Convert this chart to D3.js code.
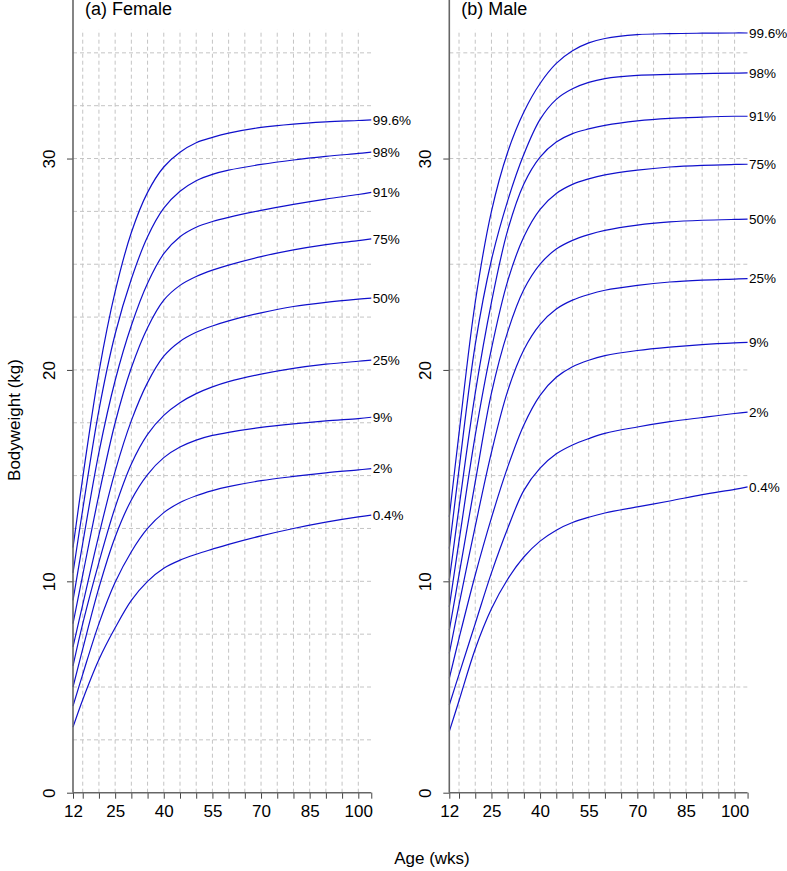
<!DOCTYPE html>
<html>
<head>
<meta charset="utf-8">
<script src="https://cdn.jsdelivr.net/npm/d3@7"></script>
<style>
  body { margin: 0; background: #fff; }
  text { font-family: "Liberation Sans", Arial, sans-serif; fill: #000; }
</style>
</head>
<body>
<svg id="chart" width="787" height="871"></svg>
<script>
// ages (weeks) at which the centile curves were read
const ages = [12, 15, 20, 25, 30, 35, 40, 45, 50, 55, 60, 70, 80, 90, 100, 104];
const centiles = ["99.6%", "98%", "91%", "75%", "50%", "25%", "9%", "2%", "0.4%"];

// female bodyweight (kg), one array per centile
const f996 = [11.6, 14.9, 19.9, 23.7, 26.5, 28.4, 29.6, 30.3, 30.75, 31.0, 31.2, 31.47, 31.63, 31.73, 31.8, 31.83];
const f98  = [10.4, 13.4, 18.1, 21.7, 24.3, 26.3, 27.65, 28.45, 28.95, 29.25, 29.45, 29.72, 29.93, 30.1, 30.24, 30.3];
const f91  = [9.1, 11.8, 16.1, 19.5, 22.1, 24.1, 25.5, 26.3, 26.75, 27.02, 27.22, 27.55, 27.83, 28.08, 28.3, 28.4];
const f75  = [8.0, 10.3, 14.1, 17.5, 20.1, 22.0, 23.3, 24.0, 24.42, 24.72, 24.96, 25.36, 25.68, 25.93, 26.12, 26.2];
const f50  = [6.9, 8.9, 12.2, 15.2, 17.6, 19.4, 20.65, 21.35, 21.78, 22.08, 22.32, 22.7, 23.0, 23.2, 23.35, 23.4];
const f25  = [6.0, 8.0, 10.9, 13.5, 15.55, 16.95, 17.85, 18.45, 18.88, 19.2, 19.45, 19.8, 20.07, 20.27, 20.41, 20.46];
const f9   = [5.0, 6.8, 9.7, 12.1, 13.85, 15.05, 15.85, 16.35, 16.68, 16.9, 17.05, 17.28, 17.45, 17.59, 17.7, 17.76];
const f2   = [4.1, 5.6, 8.0, 9.95, 11.4, 12.5, 13.25, 13.73, 14.05, 14.29, 14.48, 14.76, 14.96, 15.13, 15.27, 15.33];
const f04  = [3.1, 4.4, 6.3, 7.8, 9.1, 10.0, 10.62, 11.0, 11.28, 11.52, 11.75, 12.15, 12.5, 12.8, 13.05, 13.13];

// male bodyweight (kg)
const m996 = [13.05, 17.0, 23.2, 27.5, 30.3, 32.2, 33.55, 34.5, 35.1, 35.47, 35.68, 35.86, 35.91, 35.93, 35.94, 35.94];
const m98  = [11.55, 15.3, 21.2, 25.2, 28.0, 30.2, 31.85, 32.8, 33.3, 33.6, 33.78, 33.93, 33.98, 34.02, 34.04, 34.05];
const m91  = [10.06, 13.5, 18.9, 23.2, 26.6, 28.8, 30.07, 30.78, 31.18, 31.4, 31.57, 31.78, 31.9, 31.96, 32.0, 32.0];
const m75  = [8.79, 11.9, 16.9, 21.0, 24.2, 26.3, 27.6, 28.35, 28.78, 29.04, 29.23, 29.45, 29.6, 29.68, 29.72, 29.73];
const m50  = [7.69, 10.3, 14.7, 18.9, 21.8, 23.8, 25.0, 25.72, 26.13, 26.4, 26.6, 26.85, 27.0, 27.08, 27.12, 27.13];
const m25  = [6.59, 8.9, 12.6, 16.1, 19.0, 20.95, 22.15, 22.88, 23.3, 23.57, 23.77, 24.0, 24.16, 24.25, 24.3, 24.32];
const m9   = [5.41, 7.3, 10.3, 13.0, 15.4, 17.4, 18.8, 19.65, 20.15, 20.46, 20.68, 20.92, 21.08, 21.2, 21.28, 21.3];
const m2   = [4.15, 5.6, 8.0, 10.4, 12.5, 14.3, 15.35, 16.03, 16.45, 16.75, 17.0, 17.3, 17.55, 17.75, 17.94, 18.0];
const m04  = [2.9, 4.35, 6.8, 8.7, 10.1, 11.15, 11.9, 12.42, 12.78, 13.03, 13.23, 13.52, 13.8, 14.1, 14.35, 14.47];

// axis ticks
const xTicks = [12, 15, 20, 25, 30, 35, 40, 45, 50, 55, 60, 65, 70, 75, 80, 85, 90, 95, 100, 104];
const xLabels = [12, 25, 40, 55, 70, 85, 100];
const xGrid = [15, 20, 25, 30, 35, 40, 45, 50, 55, 60, 65, 70, 75, 80, 85, 90, 95, 100];
const yTicks = [0, 10, 20, 30];
const yGridFemale = [2.5, 5, 7.5, 10, 12.5, 15, 17.5, 20, 22.5, 25, 27.5, 30, 32.5, 35];
const yGridMale = [5, 10, 15, 20, 25, 30, 35];

const panels = [
    { title: "(a) Female", left: 73, series: [f996, f98, f91, f75, f50, f25, f9, f2, f04], yGrid: yGridFemale },
    { title: "(b) Male", left: 449.3, series: [m996, m98, m91, m75, m50, m25, m9, m2, m04], yGrid: yGridMale }
];

const svg = d3.select("#chart");
const y = d3.scaleLinear().domain([0, 37.5]).range([792.7, 0]);

panels.forEach(p => {
    const x = d3.scaleLinear().domain([12, 100]).range([p.left, p.left + 285.3]);
    const g = svg.append("g");

    // dashed grid
    g.selectAll(".vgrid").data(xGrid).join("line")
        .attr("x1", d => x(d)).attr("x2", d => x(d))
        .attr("y1", y(0)).attr("y2", y(36.1))
        .attr("stroke", "#c4c4c4").attr("stroke-width", 1).attr("stroke-dasharray", "4,3");
    g.selectAll(".hgrid").data(p.yGrid).join("line")
        .attr("x1", x(12)).attr("x2", x(104.3))
        .attr("y1", d => y(d)).attr("y2", d => y(d))
        .attr("stroke", "#c4c4c4").attr("stroke-width", 1).attr("stroke-dasharray", "4,3");

    // curves
    const line = d3.line()
        .x((d, i) => x(ages[i]))
        .y(d => y(d))
        .curve(d3.curveCatmullRom.alpha(0.5));
    g.selectAll(".curve").data(p.series).join("path")
        .attr("d", line)
        .attr("fill", "none")
        .attr("stroke", "#1010cc")
        .attr("stroke-width", 1.2);

    g.selectAll(".lab").data(p.series).join("text")
        .attr("x", x(104) + 1.5)
        .attr("y", d => y(d[d.length - 1]))
        .attr("dy", "0.35em")
        .attr("font-size", 13.5)
        .text((d, i) => centiles[i]);

    // x axis
    const xAxis = d3.axisBottom(x)
        .tickValues(xTicks)
        .tickSize(6)
        .tickSizeOuter(0)
        .tickPadding(13)
        .tickFormat(d => xLabels.includes(d) ? d : "");
    const gx = g.append("g").attr("transform", `translate(0,${y(0)})`).call(xAxis);
    gx.select(".domain").remove();
    gx.selectAll("line").attr("stroke", "#444");
    gx.selectAll("text").attr("font-size", 17).attr("dy", "0.31em")
        .attr("font-family", "Liberation Sans, Arial, sans-serif").attr("fill", "#000");

    // y axis
    const yAxis = d3.axisLeft(y).tickValues(yTicks).tickSize(6).tickSizeOuter(0);
    const gy = g.append("g").attr("transform", `translate(${p.left},0)`).call(yAxis);
    gy.select(".domain").remove();
    gy.selectAll("line").attr("stroke", "#444");
    gy.selectAll("text")
        .attr("x", 0).attr("y", 0).attr("dy", null)
        .attr("text-anchor", "middle")
        .attr("transform", "translate(-18,0) rotate(-90)")
        .attr("font-size", 17)
        .attr("font-family", "Liberation Sans, Arial, sans-serif").attr("fill", "#000");

    // axis lines (L-shaped box)
    g.append("line")
        .attr("x1", p.left).attr("x2", p.left)
        .attr("y1", y(0)).attr("y2", y(37.5))
        .attr("stroke", "#666").attr("stroke-width", 1.6);
    g.append("line")
        .attr("x1", x(12)).attr("x2", x(104))
        .attr("y1", y(0)).attr("y2", y(0))
        .attr("stroke", "#666").attr("stroke-width", 1.6);

    g.append("text")
        .attr("x", p.left + 12).attr("y", 15)
        .attr("font-size", 18)
        .text(p.title);
});

svg.append("text")
    .attr("x", 432).attr("y", 864)
    .attr("text-anchor", "middle")
    .attr("font-size", 17)
    .text("Age (wks)");

svg.append("text")
    .attr("transform", "translate(20,420) rotate(-90)")
    .attr("text-anchor", "middle")
    .attr("font-size", 17)
    .text("Bodyweight (kg)");
</script>
</body>
</html>
